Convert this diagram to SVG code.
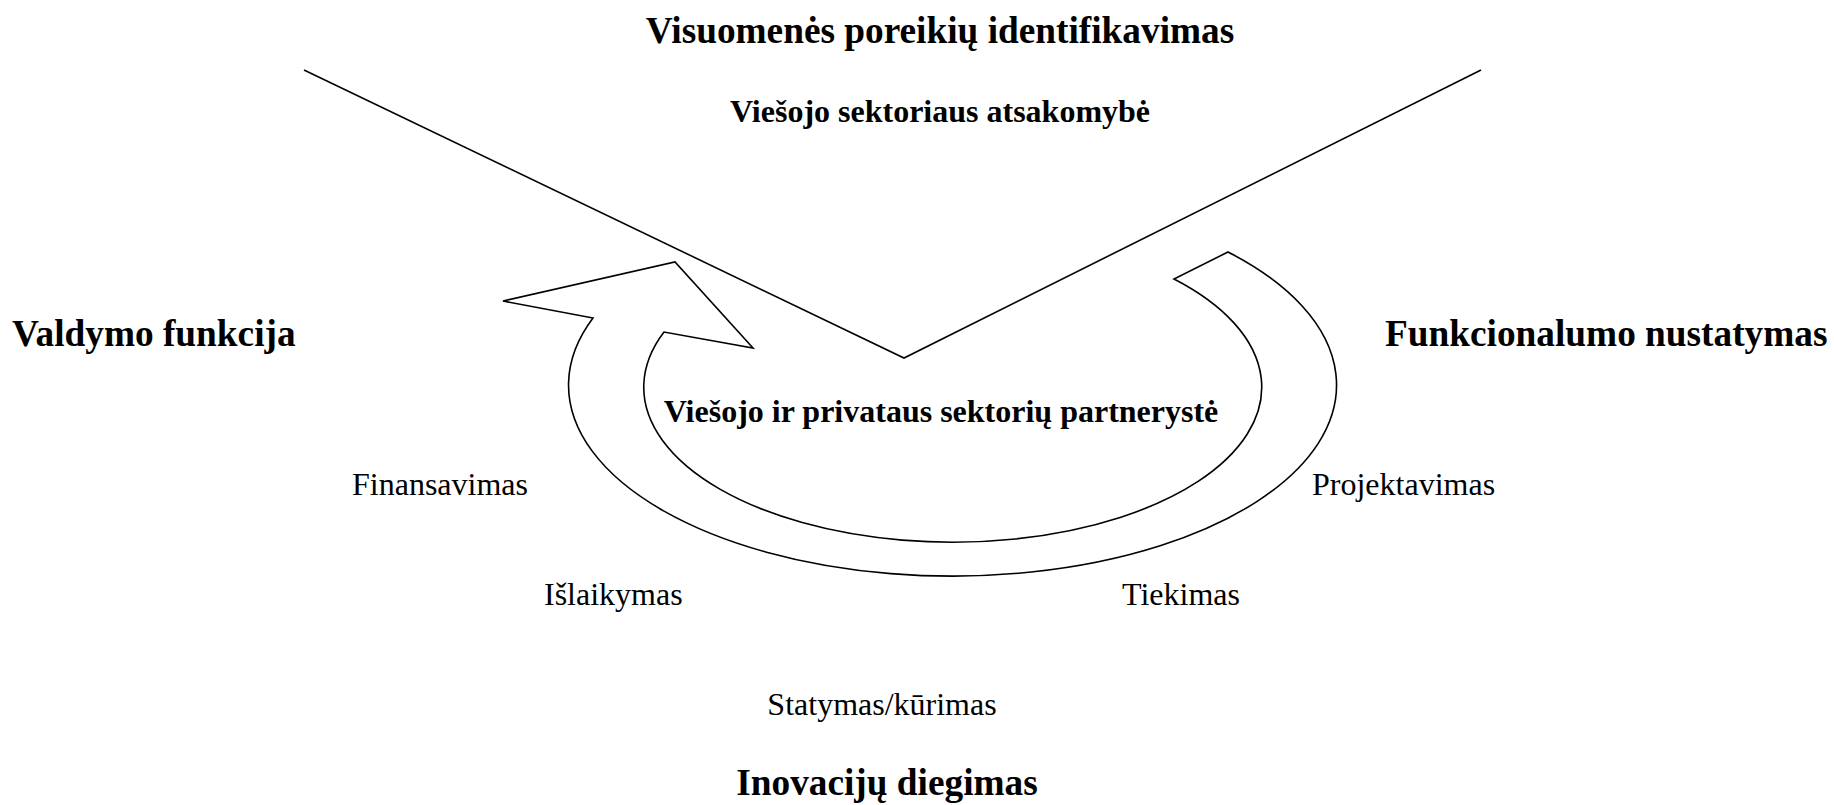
<svg xmlns="http://www.w3.org/2000/svg" width="1834" height="805" viewBox="0 0 1834 805">
  <style>
    .line { fill: none; stroke: #000; stroke-width: 1.6; stroke-linejoin: miter; }
    .title { font-family: "Liberation Serif", "Times New Roman", serif; font-weight: bold; font-size: 37.3px; fill: #000; }
    .sub { font-family: "Liberation Serif", "Times New Roman", serif; font-weight: bold; font-size: 32px; fill: #000; }
    .label { font-family: "Liberation Serif", "Times New Roman", serif; font-size: 32px; fill: #000; }
  </style>
  <rect width="1834" height="805" fill="#fff"/>

  <!-- V-shaped funnel and circular arrow -->
  <g id="connectors">
    <polyline class="line" points="304,70 904,358 1481,70"/>
    <path class="line" d="M1228,252 A384,191 0 1 1 593,318 L503,301 L675,262 L753,348 L664,332 A309,155 0 1 0 1174,279 Z"/>
  </g>

  <g id="node-needs"><text class="title" x="940" y="43" text-anchor="middle">Visuomenės poreikių identifikavimas</text></g>
  <g id="node-public"><text class="sub" x="940" y="122" text-anchor="middle">Viešojo sektoriaus atsakomybė</text></g>
  <g id="node-management"><text class="title" x="12" y="346">Valdymo funkcija</text></g>
  <g id="node-functionality"><text class="title" x="1385" y="346">Funkcionalumo nustatymas</text></g>
  <g id="node-ppp"><text class="sub" x="941" y="422" text-anchor="middle">Viešojo ir privataus sektorių partnerystė</text></g>
  <g id="node-financing"><text class="label" x="352" y="495">Finansavimas</text></g>
  <g id="node-design"><text class="label" x="1312" y="495">Projektavimas</text></g>
  <g id="node-maintenance"><text class="label" x="544" y="605">Išlaikymas</text></g>
  <g id="node-supply"><text class="label" x="1122" y="605">Tiekimas</text></g>
  <g id="node-construction"><text class="label" x="882" y="715" text-anchor="middle">Statymas/kūrimas</text></g>
  <g id="node-innovation"><text class="title" x="887" y="795" text-anchor="middle">Inovacijų diegimas</text></g>
</svg>
